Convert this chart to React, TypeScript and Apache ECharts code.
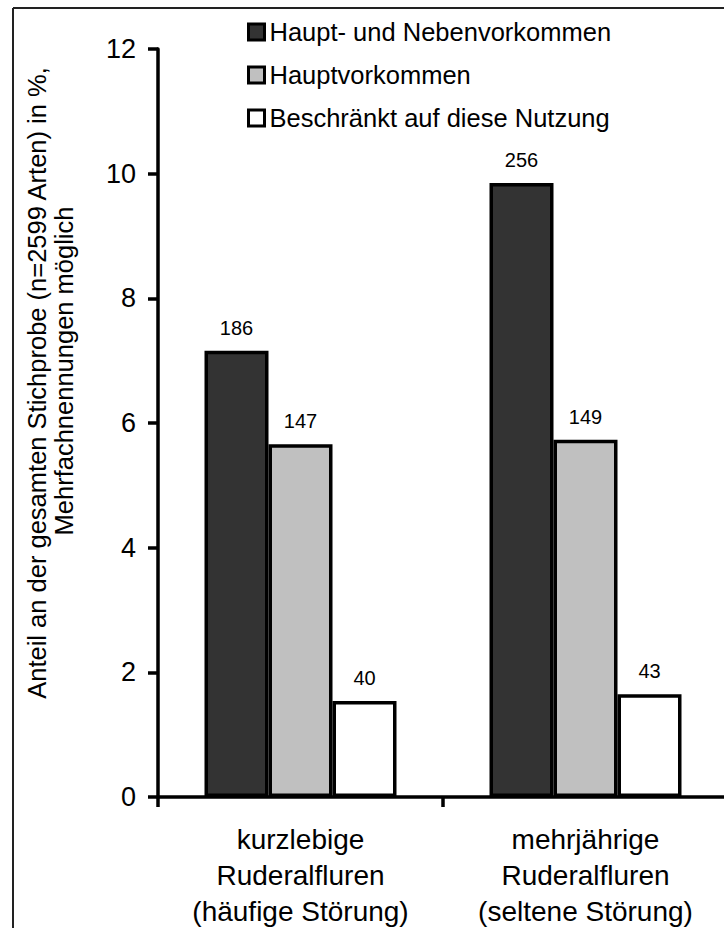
import React, { useEffect, useRef } from "react";
import * as echarts from "echarts";

const categories = [
  "kurzlebige\nRuderalfluren\n(häufige Störung)",
  "mehrjährige\nRuderalfluren\n(seltene Störung)",
];
const seriesNames = [
  "Haupt- und Nebenvorkommen",
  "Hauptvorkommen",
  "Beschränkt auf diese Nutzung",
];
// percentage of all species (n=2599)
const hauptNeben = [7.16, 9.85];
const haupt = [5.66, 5.73];
const beschraenkt = [1.54, 1.65];
// species counts shown above bars
const hauptNebenCounts = [186, 256];
const hauptCounts = [147, 149];
const beschraenktCounts = [40, 43];
const yTicks = [0, 2, 4, 6, 8, 10, 12];

const FONT = "'Liberation Sans', Arial, Helvetica, sans-serif";

export default function App() {
  const ref = useRef<HTMLDivElement>(null);
  useEffect(() => {
    if (!ref.current) return;
    const chart = echarts.init(ref.current, null, { renderer: "svg" });
    const colors = ["#333333", "#c0c0c0", "#ffffff"];
    const values = [hauptNeben, haupt, beschraenkt];
    const counts = [hauptNebenCounts, hauptCounts, beschraenktCounts];
    chart.setOption({
      animation: false,
      backgroundColor: "#ffffff",
      textStyle: { fontFamily: FONT, color: "#000" },
      grid: {
        left: 158,
        top: 49,
        width: 570,
        height: 748,
        containLabel: false,
        outerBoundsMode: "none",
      },
      legend: {
        orient: "vertical",
        left: 242,
        top: 14,
        itemWidth: 16,
        itemHeight: 16,
        itemGap: 17,
        icon: "rect",
        data: seriesNames,
        itemStyle: { borderColor: "#000", borderWidth: 3 },
        textStyle: { fontFamily: FONT, fontSize: 25.5, color: "#000", padding: [0, 0, 0, 0] },
      },
      xAxis: {
        type: "category",
        data: categories,
        axisLine: { show: true, lineStyle: { color: "#000", width: 3.5 } },
        axisTick: { show: true, inside: false, length: 10, alignWithLabel: false, lineStyle: { color: "#000", width: 3.5 } },
        axisLabel: { fontFamily: FONT, fontSize: 28, lineHeight: 36, color: "#000", margin: 24, interval: 0 },
        splitLine: { show: false },
      },
      yAxis: {
        type: "value",
        min: yTicks[0],
        max: yTicks[yTicks.length - 1],
        interval: 2,
        axisLine: { show: true, lineStyle: { color: "#000", width: 3.5 } },
        axisTick: { show: true, inside: false, length: 10, lineStyle: { color: "#000", width: 3.5 } },
        axisLabel: { fontFamily: FONT, fontSize: 27, color: "#000", margin: 22 },
        splitLine: { show: false },
      },
      series: seriesNames.map((name, i) => ({
        name,
        type: "bar",
        data: values[i],
        barWidth: 64,
        barGap: "0%",
        itemStyle: { color: colors[i], borderColor: "#000", borderWidth: 3.5 },
        label: {
          show: true,
          position: "top",
          distance: 13,
          fontFamily: FONT,
          fontSize: 20,
          color: "#000",
          formatter: (p: any) => String(counts[i][p.dataIndex]),
        },
      })),
      graphic: [
        {
          type: "line",
          z: 100,
          shape: { x1: 13, y1: 8, x2: 724, y2: 8 },
          style: { stroke: "#222", lineWidth: 2 },
          silent: true,
        },
        {
          type: "line",
          z: 100,
          shape: { x1: 13, y1: 8, x2: 13, y2: 928 },
          style: { stroke: "#222", lineWidth: 2 },
          silent: true,
        },
        {
          type: "text",
          x: 37,
          y: 383,
          rotation: Math.PI / 2,
          style: {
            text: "Anteil an der gesamten Stichprobe (n=2599 Arten) in %,",
            font: `25.5px ${FONT}`,
            fill: "#000",
            textAlign: "center",
            textVerticalAlign: "middle",
          },
        },
        {
          type: "text",
          x: 64,
          y: 371,
          rotation: Math.PI / 2,
          style: {
            text: "Mehrfachnennungen möglich",
            font: `25.5px ${FONT}`,
            fill: "#000",
            textAlign: "center",
            textVerticalAlign: "middle",
          },
        },
      ],
    });
    return () => chart.dispose();
  }, []);
  return (
    <div
      ref={ref}
      style={{ position: "fixed", left: 0, top: 0, width: 724, height: 928, background: "#fff" }}
    />
  );
}
